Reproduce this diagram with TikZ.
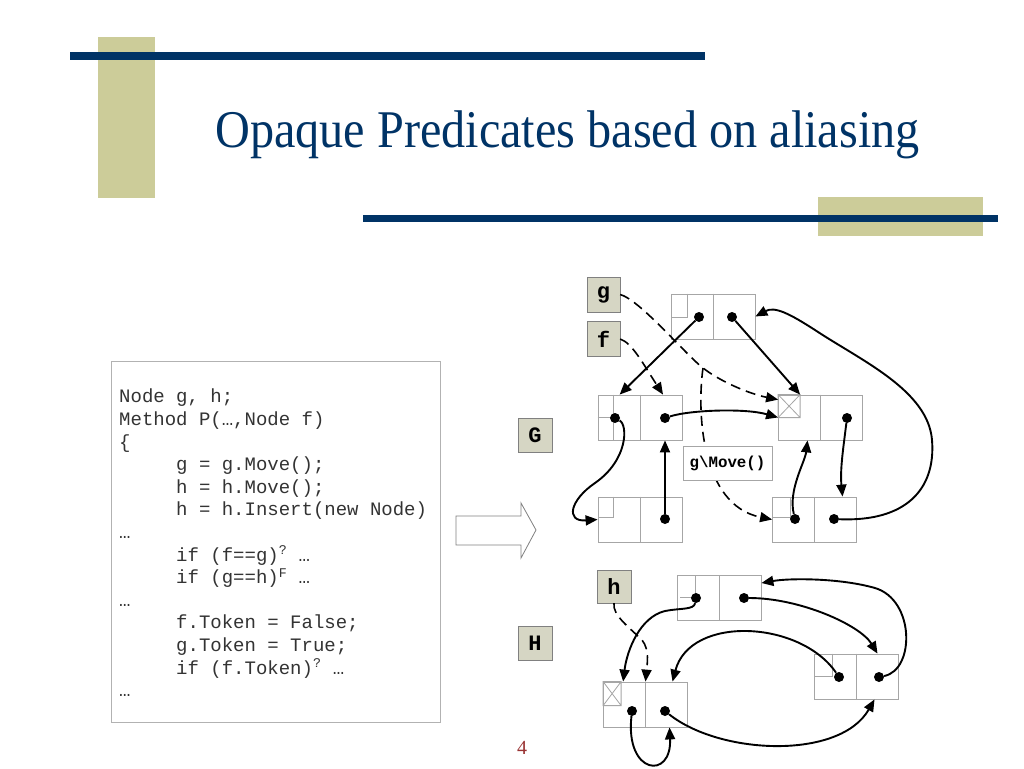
\documentclass[tikz,border=0pt]{standalone}
\usepackage{fontspec}
\setmainfont{Liberation Serif}
\setmonofont{Liberation Mono}
\usetikzlibrary{arrows.meta}
\definecolor{navy}{RGB}{0,51,102}
\definecolor{olive}{RGB}{204,204,153}
\definecolor{tagfill}{RGB}{214,214,196}
\definecolor{pagered}{RGB}{153,51,51}
\newcommand{\ind}{\hspace*{57pt}}
\begin{document}
\begin{tikzpicture}[x = 1pt, y = -1pt,
  cell/.style = {draw = gray!70, line width = 0.8, minimum width = 84pt, minimum height = 45pt, inner sep = 0pt},
  part/.style = {draw = gray!70, line width = 0.8},
  tag/.style = {draw = gray, fill = tagfill, inner sep = 0pt, minimum width = 34pt, minimum height = 34pt,
    font = \fontsize{22}{22}\selectfont\ttfamily\bfseries},
  dot/.style = {circle, fill = black, inner sep = 0pt, minimum size = 10pt},
  ptr/.style = {-{Triangle[length = 12pt, width = 10pt]}, line width = 1.9},
  alias/.style = {ptr, line width = 1.6, dash pattern = on 10pt off 6pt}]
  \useasboundingbox (0,0) rectangle (1024,768);
  \fill[white] (0,0) rectangle (1024,768);
  \fill[olive] (98,37) rectangle (155,198);
  \fill[navy] (70,52) rectangle (705,60);
  \fill[olive] (818,197) rectangle (983,236);
  \fill[navy] (363,215) rectangle (998,222);
  \node[anchor = base west, inner sep = 0pt, text = navy, xscale = 0.91,
    font = \fontsize{53}{53}\selectfont] (title) at (215,147) {Opaque Predicates based on aliasing};

  \node[draw = gray!60, anchor = north west, minimum width = 329pt, minimum height = 361pt] (codebox) at (111,361) {};
  \node[anchor = north west, inner sep = 0pt, align = left, text = black!80,
    font = \fontsize{19}{22.6}\selectfont\ttfamily] (code) at (119,389) {Node g, h;\\
    Method P(…,Node f)\\
    \{\\
    \ind g = g.Move();\\
    \ind h = h.Move();\\
    \ind h = h.Insert(new Node)\\
    …\\
    \ind if (f==g)\textsuperscript{?} …\\
    \ind if (g==h)\textsuperscript{F} …\\
    …\\
    \ind f.Token = False;\\
    \ind g.Token = True;\\
    \ind if (f.Token)\textsuperscript{?} …\\
    …};

  \draw[gray, line width = 0.8, fill = white] (456,516) -- (521,516) -- (521,503) -- (536,530) -- (521,558) -- (521,545) -- (456,545) -- cycle;
  \node[tag] (G) at (535,435) {G};
  \node[tag] (H) at (535,643) {H};

  \node[cell] (n1) at (713,316.5) {};
  \node[cell] (n2) at (640,417.5) {};
  \node[cell] (n3) at (820.5,417.5) {};
  \node[cell] (n4) at (640,519.5) {};
  \node[cell] (n5) at (814.5,519.5) {};
  \node[cell] (m1) at (719,598) {};
  \node[cell] (m2) at (856.5,676.5) {};
  \node[cell] (m3) at (645.5,704.5) {};
  \foreach \c in {n1,n2,n3,n4,n5,m1,m2,m3}
    \draw[part] (\c.north) -- (\c.south);
  \draw[part] (n1.north west) ++(17,0) |- ++(-17,24);
  \draw[part] (n2.north west) ++(16,0) -- ++(0,45) (n2.west) -- ++(16,0);
  \draw[part] (n3.north west) rectangle ++(22,23) (n3.north west) -- ++(22,23) ++(-22,0) -- ++(22,-23);
  \draw[part] (n4.north west) ++(16,0) |- ++(-16,21);
  \draw[part] (n5.north west) ++(18,0) |- ++(-18,21);
  \draw[part] (m1.north west) ++(19,0) |- ++(-16,22);
  \draw[part] (m2.north west) ++(18,0) |- ++(-18,23);
  \draw[part] (m3.north west) rectangle ++(18,24) (m3.north west) -- ++(18,24) ++(-18,0) -- ++(18,-24);

  \node[tag, minimum width = 33pt, minimum height = 35pt] (g) at (603.5,294.5) {g};
  \node[tag, minimum width = 33pt, minimum height = 35pt] (f) at (603.5,339) {f};
  \node[tag, minimum height = 33pt] (h) at (614,586.5) {h};

  \node[dot] (d1a) at (699,317) {};
  \node[dot] (d1b) at (732,317) {};
  \node[dot] (d2a) at (615,418) {};
  \node[dot] (d2b) at (665,418) {};
  \node[dot] (d3) at (847,418) {};
  \node[dot] (d4) at (665,519) {};
  \node[dot] (d5a) at (795,519) {};
  \node[dot] (d5b) at (834,519) {};
  \node[dot] (m1a) at (696,598) {};
  \node[dot] (m1b) at (744,598) {};
  \node[dot] (m2a) at (839,677) {};
  \node[dot] (m2b) at (879,677) {};
  \node[dot] (m3a) at (632,711) {};
  \node[dot] (m3b) at (665,711) {};
  \coordinate (fork) at (703,368);

  \draw[ptr] (d1a) -- ([xshift = 22pt]n2.north west);
  \draw[ptr] (d1b) -- ([xshift = 22pt]n3.north west);
  \draw[alias] (f.east) .. controls (632,343) and (642,362) .. ([xshift = 23pt]n2.north);
  \draw[alias] (g.east) .. controls (640,300) and (685,354) .. (fork) .. controls (721,382) and (750,394) .. ([yshift = -5pt]n3.north west);
  \draw[alias] (fork) .. controls (697,410) and (700,505) .. (n5.west);
  \draw[ptr] (d2b) .. controls (690,410) and (745,408) .. (n3.west);
  \draw[ptr] (d2a) .. controls (628,425) and (628,460) .. (595,483) .. controls (570,500) and (565,522) .. (n4.west);
  \draw[ptr] (d4) -- (n2.south -| d4);
  \draw[ptr] (d5a) .. controls (788,490) and (805,462) .. ([xshift = -13pt]n3.south);
  \draw[ptr] (d3) .. controls (843,450) and (840,470) .. ([xshift = 28pt]n5.north);
  \draw[ptr] (d5b) .. controls (905,522) and (936,490) .. (932,440) .. controls (928,390) and (860,360) .. (815,330) .. controls (790,314) and (775,306) .. (n1.east);
  \node[draw = gray!70, fill = white, inner sep = 0pt, minimum width = 89pt, minimum height = 34pt,
    font = \fontsize{15.8}{15.8}\selectfont\ttfamily\bfseries] (move) at (727.5,463) {g\textbackslash Move()};

  \draw[ptr] (m1a) .. controls (694,610) and (680,608) .. (665,611) .. controls (640,617) and (627,650) .. ([xshift = 20pt]m3.north west);
  \draw[alias] (h.south) .. controls (612,615) and (630,628) .. (642,640) .. controls (650,650) and (647,665) .. (m3.north);
  \draw[ptr] (m1b) .. controls (800,598) and (860,625) .. ([xshift = 21pt]m2.north);
  \draw[ptr] (m2b) .. controls (915,670) and (915,600) .. (875,588) .. controls (840,578) and (790,578) .. ([yshift = 15pt]m1.east);
  \draw[ptr] (m2a) .. controls (800,620) and (690,615) .. ([xshift = 27pt]m3.north);
  \draw[ptr] (m3b) .. controls (720,755) and (840,760) .. ([xshift = 18pt]m2.south);
  \draw[ptr] (m3a) .. controls (625,775) and (672,780) .. ([xshift = 24pt]m3.south);

  \node[text = pagered, font = \fontsize{20}{20}\selectfont] (page) at (522,748) {4};
\end{tikzpicture}
\end{document}
